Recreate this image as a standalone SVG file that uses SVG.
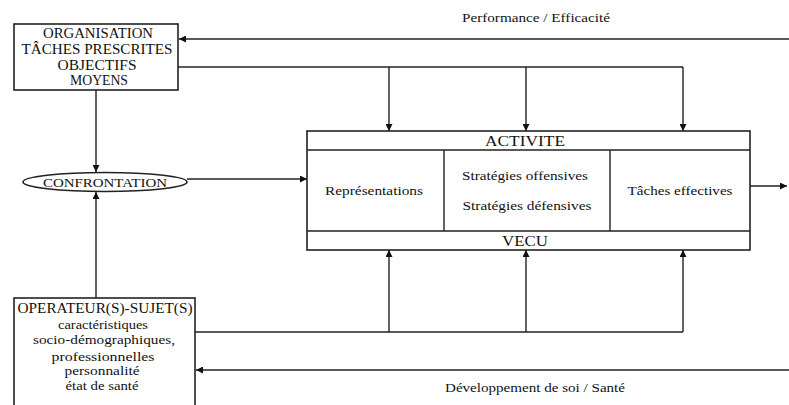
<svg xmlns="http://www.w3.org/2000/svg" width="789" height="405" viewBox="0 0 789 405">
<style>
text{font-family:"Liberation Serif","Times New Roman",serif;fill:#111;text-anchor:middle}
.b{font-size:14px}
.s{font-size:13px}
.box{fill:#fff;stroke:#222;stroke-width:1.6}
.ln{fill:none;stroke:#222;stroke-width:1.4}
</style>
<defs>
<marker id="ah" viewBox="0 0 10 10" refX="10" refY="5" markerWidth="7" markerHeight="7" orient="auto" markerUnits="userSpaceOnUse">
<path d="M0,0 L10,5 L0,10 z" fill="#111"/>
</marker>
</defs>
<rect width="789" height="405" fill="#fff"/>
<g id="connectors">
<path class="ln" d="M789,39 H179" marker-end="url(#ah)"/>
<path class="ln" d="M178,67 H683"/>
<path class="ln" d="M389,67 V131" marker-end="url(#ah)"/>
<path class="ln" d="M526,67 V131" marker-end="url(#ah)"/>
<path class="ln" d="M683,67 V131" marker-end="url(#ah)"/>
<path class="ln" d="M96,90 V172" marker-end="url(#ah)"/>
<path class="ln" d="M96,298 V192" marker-end="url(#ah)"/>
<path class="ln" d="M187,179 H307" marker-end="url(#ah)"/>
<path class="ln" d="M195,332 H683"/>
<path class="ln" d="M389,332 V250" marker-end="url(#ah)"/>
<path class="ln" d="M526,332 V250" marker-end="url(#ah)"/>
<path class="ln" d="M683,332 V250" marker-end="url(#ah)"/>
<path class="ln" d="M789,370 H196" marker-end="url(#ah)"/>
<path class="ln" d="M750,186 H787" marker-end="url(#ah)"/>
<path class="ln" d="M432,187 H462" marker-end="url(#ah)"/>
<path class="ln" d="M590,187 H620" marker-end="url(#ah)"/>
<text class="s" x="536" y="22" textLength="148" lengthAdjust="spacingAndGlyphs">Performance / Efficacité</text>
<text class="s" x="535" y="392" textLength="180" lengthAdjust="spacingAndGlyphs">Développement de soi / Santé</text>
</g>
<g id="organisation">
<rect class="box" x="14" y="24" width="164" height="66"/>
<text class="b" x="98" y="38" textLength="110" lengthAdjust="spacingAndGlyphs">ORGANISATION</text>
<text class="b" x="97" y="54" textLength="151" lengthAdjust="spacingAndGlyphs">TÂCHES PRESCRITES</text>
<text class="b" x="97" y="70" textLength="79" lengthAdjust="spacingAndGlyphs">OBJECTIFS</text>
<text class="b" x="99" y="85" textLength="58" lengthAdjust="spacingAndGlyphs">MOYENS</text>
</g>
<g id="confrontation">
<ellipse cx="105" cy="182" rx="82" ry="9.5" fill="#fff" stroke="#222" stroke-width="1.6"/>
<text class="s" x="105" y="187" textLength="124" lengthAdjust="spacingAndGlyphs">CONFRONTATION</text>
</g>
<g id="activite">
<rect class="box" x="307" y="131" width="443" height="119"/>
<path class="ln" d="M307,150 H750 M307,231 H750 M444,150 V231 M610,150 V231"/>
<text class="b" x="525" y="146" textLength="80" lengthAdjust="spacingAndGlyphs">ACTIVITE</text>
<text class="b" x="525" y="246" textLength="46" lengthAdjust="spacingAndGlyphs">VECU</text>
<text class="s" x="374" y="195" textLength="98" lengthAdjust="spacingAndGlyphs">Représentations</text>
<text class="s" x="525" y="180" textLength="126" lengthAdjust="spacingAndGlyphs">Stratégies offensives</text>
<text class="s" x="527" y="210" textLength="129" lengthAdjust="spacingAndGlyphs">Stratégies défensives</text>
<text class="s" x="680" y="195" textLength="105" lengthAdjust="spacingAndGlyphs">Tâches effectives</text>
</g>
<g id="operateur">
<rect class="box" x="14" y="298" width="181" height="120"/>
<text class="b" x="105" y="313" textLength="175" lengthAdjust="spacingAndGlyphs">OPERATEUR(S)-SUJET(S)</text>
<text class="s" x="103" y="329" textLength="90" lengthAdjust="spacingAndGlyphs">caractéristiques</text>
<text class="s" x="104" y="344" textLength="142" lengthAdjust="spacingAndGlyphs">socio-démographiques,</text>
<text class="s" x="103" y="361" textLength="103" lengthAdjust="spacingAndGlyphs">professionnelles</text>
<text class="s" x="102" y="375" textLength="75" lengthAdjust="spacingAndGlyphs">personnalité</text>
<text class="s" x="102" y="390" textLength="73" lengthAdjust="spacingAndGlyphs">état de santé</text>
</g>
</svg>
